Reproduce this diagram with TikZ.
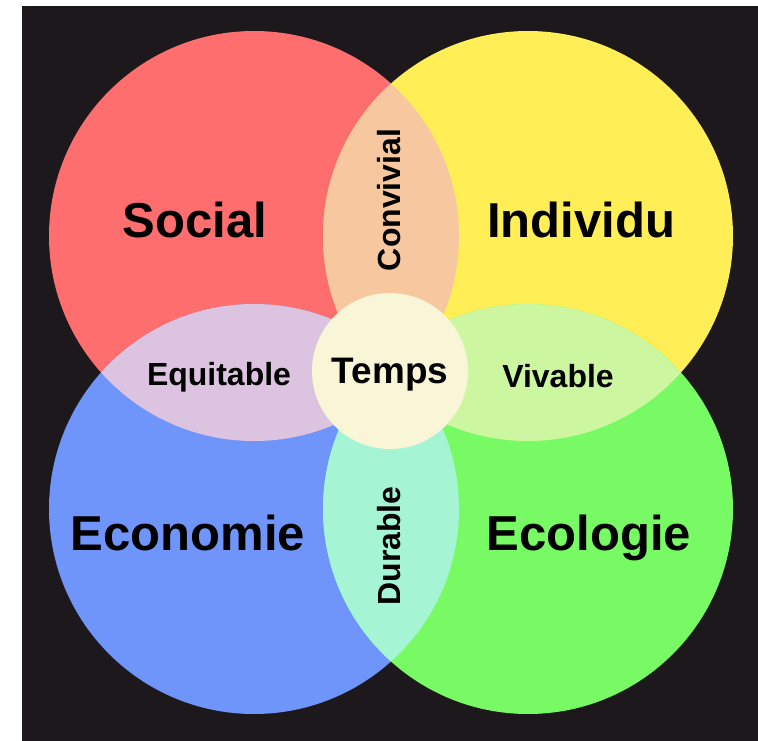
\documentclass[tikz,border=0pt]{standalone}
\usepackage{fontspec}
\setmainfont{Liberation Sans}
\usepackage{tikz}

\definecolor{bgdark}{HTML}{1C181C}
\definecolor{socialred}{HTML}{FF6E6E}
\definecolor{individuyellow}{HTML}{FFEE55}
\definecolor{economieblue}{HTML}{6F95FA}
\definecolor{ecologiegreen}{HTML}{78FA64}
\definecolor{convivialpeach}{HTML}{F7C8A0}
\definecolor{equitablelilac}{HTML}{DCC4E0}
\definecolor{vivablelime}{HTML}{CCF7A0}
\definecolor{durablemint}{HTML}{A5F5D5}
\definecolor{tempscream}{HTML}{F9F5D7}

\tikzset{
  biglabel/.style={anchor=base, font=\fontsize{27.9}{30}\selectfont\bfseries},
  lenslabel/.style={anchor=base, font=\fontsize{18.2}{20}\selectfont\bfseries},
}

\begin{document}
\begin{tikzpicture}[x=0.02cm, y=-0.02cm]
\useasboundingbox (0,0) rectangle (758,741);
\fill[bgdark] (22,6) rectangle (758,741);

% centres of the four circles
\coordinate (social) at (254,236);
\coordinate (individu) at (528,236);
\coordinate (economie) at (254,509);
\coordinate (ecologie) at (528,509);

\fill[socialred] (social) circle[radius=205];
\fill[individuyellow] (individu) circle[radius=205];
\fill[economieblue] (economie) circle[radius=205];
\fill[ecologiegreen] (ecologie) circle[radius=205];

% overlaps
\begin{scope}
  \clip (social) circle[radius=205];
  \fill[convivialpeach] (individu) circle[radius=205];
  \fill[equitablelilac] (economie) circle[radius=205];
\end{scope}
\begin{scope}
  \clip (ecologie) circle[radius=205];
  \fill[vivablelime] (individu) circle[radius=205];
  \fill[durablemint] (economie) circle[radius=205];
\end{scope}

\node (temps) [circle, fill=tempscream, minimum size=3.12cm, text depth=0pt,
  font=\fontsize{21}{22}\selectfont\bfseries] at (390,371) {Temps};

\node (sociallabel) [biglabel] at (195,237) {Social};
\node (individulabel) [biglabel] at (581,237) {Individu};
\node (economielabel) [biglabel] at (188,550) {Economie};
\node (ecologielabel) [biglabel] at (589,550) {Ecologie};

\node (equitable) [lenslabel] at (219,385) {Equitable};
\node (vivable) [lenslabel] at (558,387) {Vivable};
\node (convivial) [lenslabel, rotate=90] at (400,200) {Convivial};
\node (durable) [lenslabel, rotate=90] at (400,546) {Durable};
\end{tikzpicture}
\end{document}
